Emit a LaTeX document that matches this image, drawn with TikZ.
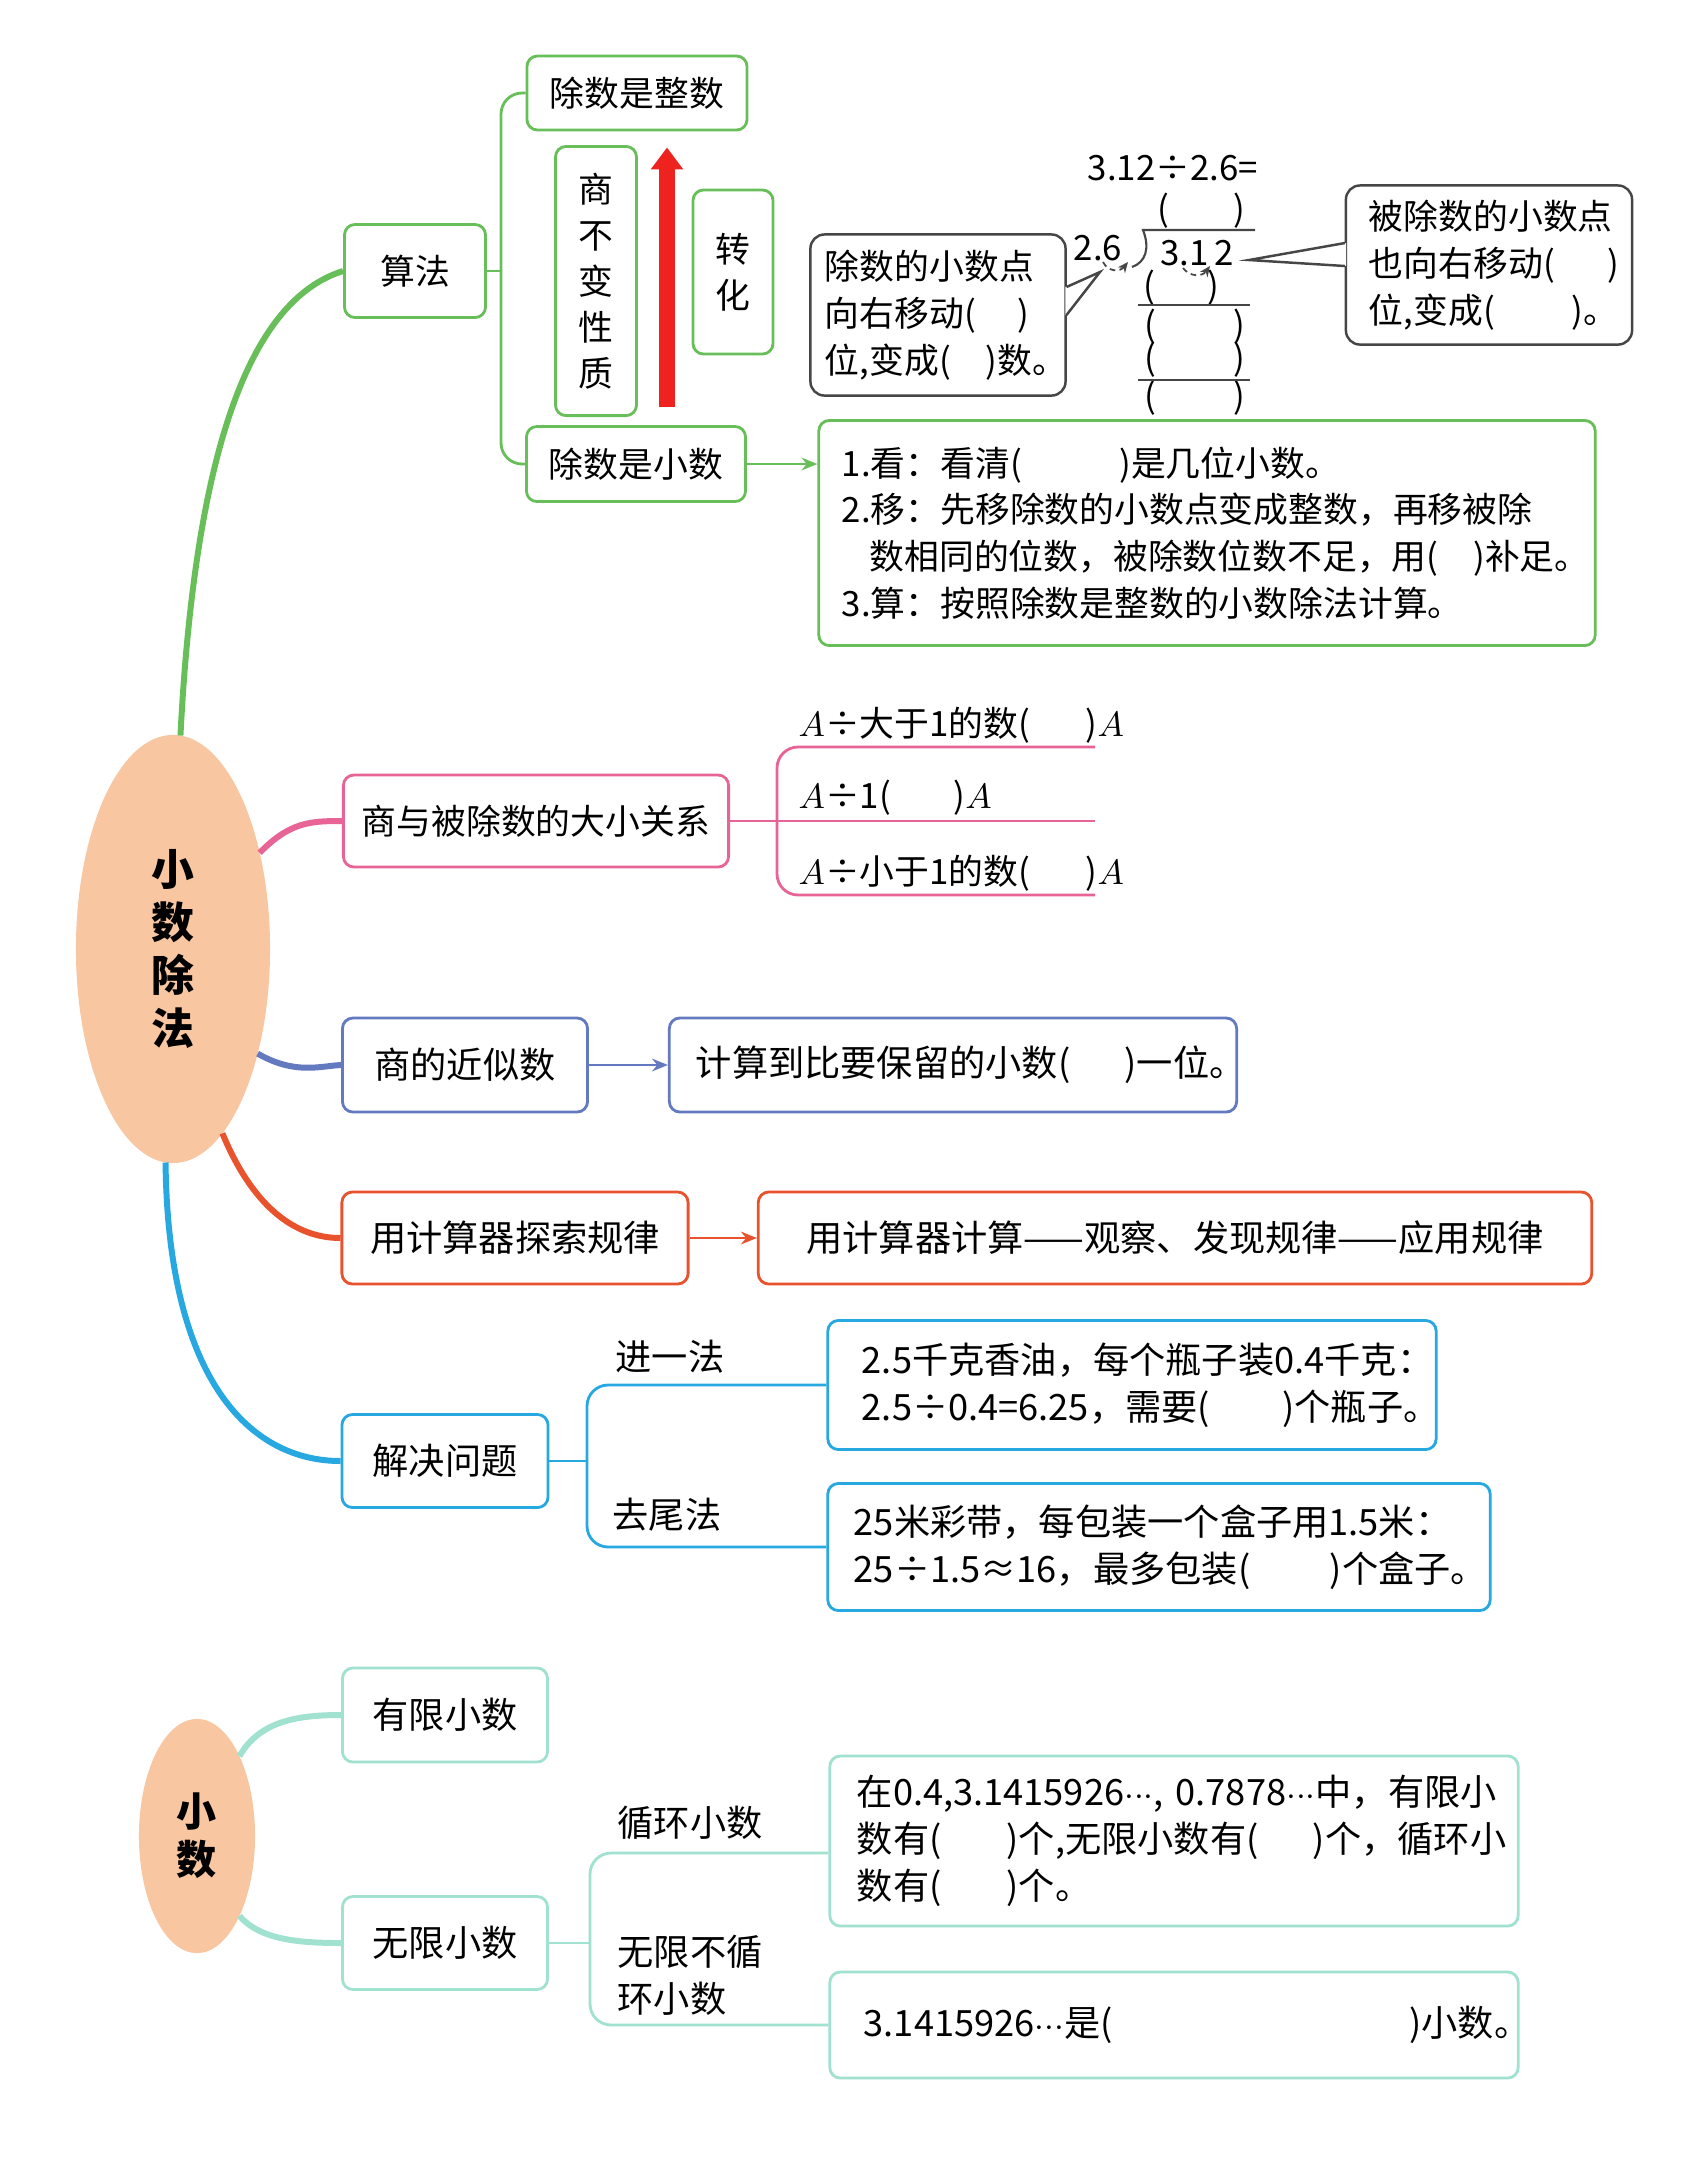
\documentclass[tikz,border=0pt]{standalone}
\usepackage{fontspec}
\setmainfont{Noto Sans CJK SC}
\usepackage{tikz}
\usetikzlibrary{arrows.meta, positioning, calc, shapes.geometric}
\definecolor{LeafGreen}{RGB}{104,190,88}
\definecolor{RosePink}{RGB}{232,100,150}
\definecolor{SlateBlue}{RGB}{100,122,192}
\definecolor{FlameRed}{RGB}{232,82,45}
\definecolor{SkyCyan}{RGB}{40,168,225}
\definecolor{MintLine}{RGB}{160,225,208}
\definecolor{PeachFill}{RGB}{248,198,160}
\definecolor{ArrowRed}{RGB}{238,34,30}
\definecolor{InkGray}{RGB}{70,70,70}
\newcommand{\mapfont}{\fontsize{9.9pt}{13.3pt}\selectfont}
\newcommand{\widefont}{\fontsize{10.3pt}{13.3pt}\selectfont}
\newcommand{\stackfont}{\fontsize{9.9pt}{13.1pt}\selectfont}
\newcommand{\rootfont}{\fontsize{12.2pt}{15pt}\selectfont\bfseries}
\newcommand{\subrootfont}{\fontsize{11.4pt}{13.7pt}\selectfont\bfseries}
\newcommand{\dotrow}{$\mathord{\cdot}\mathord{\cdot}\mathord{\cdot}$}
\tikzset{
  basebox/.style={rectangle,rounded corners=3pt,line width=0.8pt,fill=white,
    align=center,font=\mapfont,inner sep=0pt},
  greenbox/.style={basebox,draw=LeafGreen},
  pinkbox/.style={basebox,draw=RosePink},
  bluebox/.style={basebox,draw=SlateBlue,font=\widefont},
  redbox/.style={basebox,draw=FlameRed,font=\widefont},
  cyanbox/.style={basebox,draw=SkyCyan,font=\widefont},
  mintbox/.style={basebox,draw=MintLine,font=\widefont},
  talkbox/.style={basebox,draw=InkGray,line width=0.7pt,rounded corners=4pt,align=left},
  rootbox/.style={ellipse,fill=PeachFill,inner sep=0pt,outer sep=0pt,align=center},
  plain/.style={inner sep=0pt,font=\mapfont,align=left},
  wideplain/.style={plain,font=\widefont},
  branch/.style={line width=1.7pt},
  linkline/.style={line width=0.8pt},
  bracket/.style={line width=0.8pt,rounded corners=6pt},
  arrow/.style={line width=0.8pt,-{Stealth[length=4.5pt,width=3.6pt]}},
  bigarrow/.style={line width=0.15cm,color=ArrowRed,-{Triangle[length=0.22cm,width=0.31cm]}},
  talkline/.style={line width=0.7pt,color=InkGray},
  divline/.style={line width=0.6pt,color=InkGray},
  curlarrow/.style={line width=0.5pt,color=InkGray,dash pattern=on 1.6pt off 1.2pt,
    -{Stealth[length=3pt,width=2.6pt]}}
}
\begin{document}
\begin{tikzpicture}[x=0.01cm,y=-0.01cm]
  \path[fill=white,use as bounding box] (0,0) rectangle (1686,2165);

  % root
  \node[rootbox,minimum width=1.94cm,minimum height=4.28cm,font=\rootfont] (main) at (173,949) {小\\数\\除\\法};

  % algorithm
  \node[greenbox,minimum width=1.41cm,minimum height=0.93cm] (sf) at (415,271) {算法};
  \node[greenbox,minimum width=2.20cm,minimum height=0.74cm] (zs) at (637,93) {除数是整数};
  \node[greenbox,minimum width=0.81cm,minimum height=2.69cm,font=\stackfont] (bb) at (596,281) {商\\不\\变\\性\\质};
  \node[greenbox,minimum width=0.80cm,minimum height=1.64cm,font=\stackfont] (zh) at (733,272) {转\\化};
  \node[greenbox,minimum width=2.19cm,minimum height=0.75cm] (xs) at (636,464) {除数是小数};
  \node[greenbox,minimum width=7.76cm,minimum height=2.25cm,text width=7.30cm,align=left] (steps) at (1207,533) {1.看：看清(\kern2.8em)是几位小数。\\2.移：先移除数的小数点变成整数，再移被除\\\mbox{\kern0.8em}数相同的位数，被除数位数不足，用(\kern1em)补足。\\3.算：按照除数是整数的小数除法计算。};
  \coordinate (sk) at (501,271);
  \draw[bracket,LeafGreen] (zs.west) -| (sk) |- (xs.west);
  \draw[linkline,LeafGreen] (sf.east) -- (sk);
  \draw[bigarrow] ($(xs.north)+(31,-18)$) -- ($(zs.south)+(30,16)$);
  \draw[arrow,LeafGreen] (xs.east) -- (xs.east -| steps.west);

  % worked example
  \node[talkbox,minimum width=2.55cm,minimum height=1.61cm,text width=2.26cm] (lc) at (938,315) {除数的小数点\\向右移动(\kern1.2em)\\位,变成(\kern1.0em)数。};
  \node[talkbox,minimum width=2.86cm,minimum height=1.59cm,text width=2.40cm] (rc) at (1489,265) {被除数的小数点\\也向右移动(\kern1.5em)\\位,变成(\kern2.2em)。};
  \coordinate (ltip) at (1100,272);
  \coordinate (rtip) at (1249,260);
  \fill[white] ([shift={(-1.5,-28)}]lc.east) -- (ltip) -- ([shift={(-1.5,0)}]lc.east) -- cycle;
  \draw[talkline] ([shift={(-0.3,-28)}]lc.east) -- (ltip) -- ([shift={(-0.3,0)}]lc.east);
  \fill[white] ([shift={(1.5,-22)}]rc.west) -- (rtip) -- ([shift={(1.5,1)}]rc.west) -- cycle;
  \draw[talkline] ([shift={(0.3,-22)}]rc.west) -- (rtip) -- ([shift={(0.3,1)}]rc.west);
  \node[plain] (eq) at (1173,168) {3.12÷2.6=};
  \node[plain] (q0) at (1201,211) {(\kern1.85em)};
  \node[plain] (dv) at (1098,248) {2.6};
  \node[plain] (dd) at (1197,253) {3.1\kern0.15em2};
  \node[plain] (q1) at (1181,288) {(\kern1.5em)};
  \node[plain] (q2) at (1195,327) {(\kern2.2em)};
  \node[plain] (q3) at (1195,360) {(\kern2.2em)};
  \node[plain] (q4) at (1195,398) {(\kern2.2em)};
  \draw[divline] (1255,230) -- (1143,230) .. controls (1150,248) and (1146,262) .. (1132,267);
  \draw[divline] (1138,305) -- (1250,305);
  \draw[divline] (1138,380) -- (1250,380);
  \draw[curlarrow] (1103,262) .. controls (1108,272) and (1120,272) .. (1128,262);
  \draw[curlarrow] (1183,268) .. controls (1190,277) and (1202,277) .. (1210,266);

  % quotient vs dividend
  \node[pinkbox,minimum width=3.85cm,minimum height=0.92cm] (gx) at (536,821) {商与被除数的大小关系};
  \node[plain,anchor=west] (gt1) at (798,725) {$A$÷大于1的数(\kern1.6em)$A$};
  \node[plain,anchor=west] (gt2) at (798,798) {$A$÷1(\kern1.8em)$A$};
  \node[plain,anchor=west] (gt3) at (798,873) {$A$÷小于1的数(\kern1.6em)$A$};
  \coordinate (pk) at (777,821);
  \coordinate (p1) at (1095,747);
  \coordinate (p2) at (1095,821);
  \coordinate (p3) at (1095,895);
  \draw[bracket,RosePink] (p1) -| (pk) |- (p3);
  \draw[linkline,RosePink] (gx.east) -- (p2);

  % approximation
  \node[bluebox,minimum width=2.45cm,minimum height=0.94cm] (jx) at (465,1065) {商的近似数};
  \node[bluebox,minimum width=5.67cm,minimum height=0.94cm,text width=5.14cm,align=left] (jw) at (953,1065) {计算到比要保留的小数(\kern1.5em)一位。};
  \draw[arrow,SlateBlue] (jx.east) -- (jw.west);

  % calculator
  \node[redbox,minimum width=3.46cm,minimum height=0.92cm] (tx) at (515,1238) {用计算器探索规律};
  \node[redbox,minimum width=8.33cm,minimum height=0.92cm] (tg) at (1175,1238) {用计算器计算——观察、发现规律——应用规律};
  \draw[arrow,FlameRed] (tx.east) -- (tg.west);

  % problems
  \node[cyanbox,minimum width=2.06cm,minimum height=0.93cm] (jj) at (445,1461) {解决问题};
  \node[cyanbox,minimum width=6.08cm,minimum height=1.29cm,text width=5.4cm,align=left] (c1) at (1132,1385) {2.5千克香油，每个瓶子装0.4千克：\\2.5÷0.4=6.25，需要(\kern2.0em)个瓶子。};
  \node[cyanbox,minimum width=6.62cm,minimum height=1.27cm,text width=6.1cm,align=left] (c2) at (1159,1547) {25米彩带，每包装一个盒子用1.5米：\\25÷1.5≈16，最多包装(\kern2.2em)个盒子。};
  \node[wideplain] (jf) at (670,1357) {进一法};
  \node[wideplain] (qw) at (667,1515) {去尾法};
  \coordinate (ck) at (587,1461);
  \draw[bracket,SkyCyan] (c1.west) -| (ck) |- (c2.west);
  \draw[linkline,SkyCyan] (jj.east) -- (ck);

  % branches
  \draw[branch,LeafGreen] (main.88) .. controls (195,450) and (250,300) .. (sf.west);
  \draw[branch,RosePink] (main.48) .. controls (290,822) and (310,821) .. (gx.west);
  \draw[branch,SlateBlue] (main.-51) .. controls (295,1075) and (320,1066) .. (jx.west);
  \draw[branch,FlameRed] (main.-75) .. controls (250,1200) and (290,1238) .. (tx.west);
  \draw[branch,SkyCyan] (main.-92) .. controls (168,1380) and (250,1461) .. (jj.west);

  % decimals
  \node[rootbox,minimum width=1.16cm,minimum height=2.34cm,font=\subrootfont] (sm) at (197,1836) {小\\数};
  \node[mintbox,minimum width=2.05cm,minimum height=0.94cm] (yx) at (445,1715) {有限小数};
  \node[mintbox,minimum width=2.05cm,minimum height=0.93cm] (wx) at (445,1943) {无限小数};
  \node[mintbox,minimum width=6.88cm,minimum height=1.70cm,text width=6.34cm,align=left] (m1) at (1174,1841) {在0.4,3.1415926\dotrow,~0.7878\dotrow 中，有限小\\数有(\kern1.8em)个,无限小数有(\kern1.5em)个，循环小\\数有(\kern1.8em)个。};
  \node[mintbox,minimum width=6.88cm,minimum height=1.06cm,text width=6.2cm,align=left] (m2) at (1174,2025) {3.1415926\dotrow 是(\kern8.2em)小数。};
  \node[wideplain] (xh) at (690,1823) {循环小数};
  \node[wideplain,anchor=west] (wb) at (617,1975) {无限不循\\环小数};
  \coordinate (mk) at (590,1943);
  \draw[bracket,MintLine] ([yshift=-0.12cm]m1.west) -| (mk) |- (m2.west);
  \draw[linkline,MintLine] (wx.east) -- (mk);
  \draw[branch,MintLine] (sm.62) .. controls (260,1720) and (300,1715) .. (yx.west);
  \draw[branch,MintLine] (sm.-62) .. controls (260,1940) and (300,1943) .. (wx.west);
\end{tikzpicture}
\end{document}
